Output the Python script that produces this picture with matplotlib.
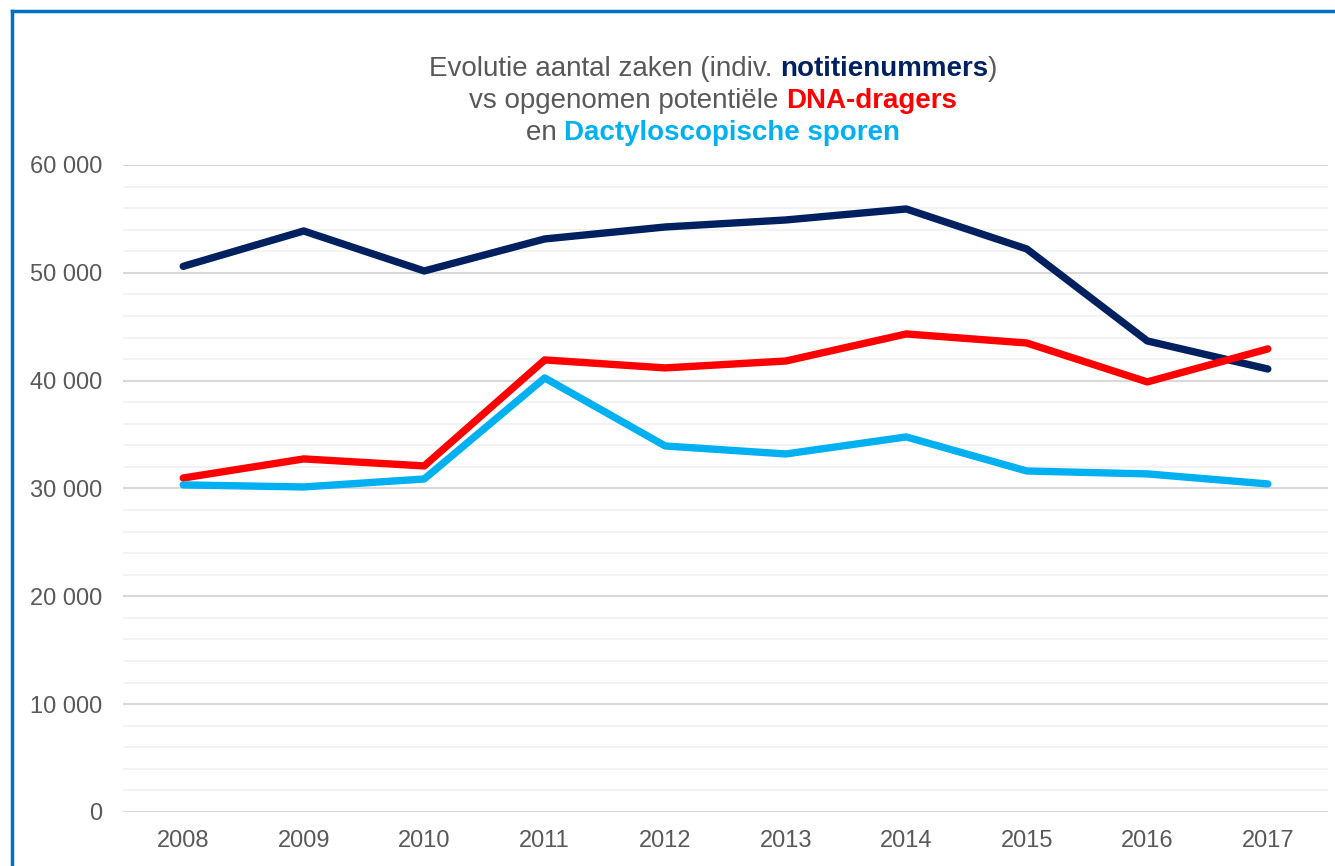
import matplotlib
matplotlib.use("Agg")
import matplotlib.pyplot as plt
from matplotlib.ticker import MultipleLocator, FuncFormatter
from matplotlib.offsetbox import TextArea, HPacker, VPacker, AnchoredOffsetbox
from matplotlib.lines import Line2D

plt.rcParams['font.family'] = ['Liberation Sans', 'DejaVu Sans']

years = ['2008', '2009', '2010', '2011', '2012', '2013', '2014', '2015', '2016', '2017']
notitienummers = [50600, 53880, 50170, 53140, 54250, 54900, 55920, 52210, 43680, 41080]
dna_dragers = [30970, 32740, 32090, 41920, 41180, 41820, 44330, 43490, 39880, 42940]
dacty_sporen = [30330, 30140, 30880, 40250, 33940, 33200, 34780, 31620, 31350, 30420]

c_navy = '#002060'
c_red = '#FF0000'
c_cyan = '#00B0F0'
c_grey = '#595959'

fig = plt.figure(figsize=(13.35, 8.66), dpi=100)
ax = fig.add_axes([0.0921, 0.0624, 0.9027, 0.7471])

x = range(len(years))
for vals, col in [(notitienummers, c_navy), (dna_dragers, c_red), (dacty_sporen, c_cyan)]:
    ax.plot(x, vals, color=col, linewidth=5.3, solid_capstyle='round', solid_joinstyle='round', zorder=3)

ax.set_xlim(-0.5, len(years) - 0.5)
ax.set_ylim(0, 60000)
ax.set_xticks(list(x))
ax.set_xticklabels(years)
ax.yaxis.set_major_locator(MultipleLocator(10000))
ax.yaxis.set_minor_locator(MultipleLocator(2000))
ax.yaxis.set_major_formatter(FuncFormatter(lambda v, p: f"{int(v):,}".replace(',', ' ')))
ax.grid(axis='y', which='major', color='#D9D9D9', linewidth=1.5, zorder=1)
ax.grid(axis='y', which='minor', color='#F2F2F2', linewidth=1.3, zorder=0)
ax.tick_params(which='both', length=0, labelsize=17, labelcolor=c_grey)
ax.tick_params(axis='y', pad=15)
ax.tick_params(axis='x', pad=13)
for s in ax.spines.values():
    s.set_visible(False)

# title with coloured words
def piece(txt, col, bold=False):
    return TextArea(txt, textprops=dict(color=col, fontsize=20,
                                        fontweight='bold' if bold else 'normal'))

lines = [
    [piece('Evolutie aantal zaken (indiv. ', c_grey), piece('notitienummers', c_navy, True), piece(')', c_grey)],
    [piece('vs opgenomen potentiële ', c_grey), piece('DNA-dragers', c_red, True)],
    [piece('en ', c_grey), piece('Dactyloscopische sporen', c_cyan, True)],
]
rows = [HPacker(children=l, align='baseline', pad=0, sep=0) for l in lines]
title_box = VPacker(children=rows, align='center', pad=0, sep=4)
anch = AnchoredOffsetbox(loc='center', child=title_box, pad=0, frameon=False,
                         bbox_to_anchor=(713 / 1335, 1 - 101 / 866),
                         bbox_transform=fig.transFigure, borderpad=0)
fig.add_artist(anch)

# blue frame (left and top edges visible)
bx, by = 11.5 / 1335, 1 - 10.5 / 866
fig.add_artist(Line2D([bx, bx], [0, by], transform=fig.transFigure, color='#0070C0', linewidth=2.5))
fig.add_artist(Line2D([bx, 1], [by, by], transform=fig.transFigure, color='#0070C0', linewidth=2.5))

fig.savefig('out.png', dpi=100)
